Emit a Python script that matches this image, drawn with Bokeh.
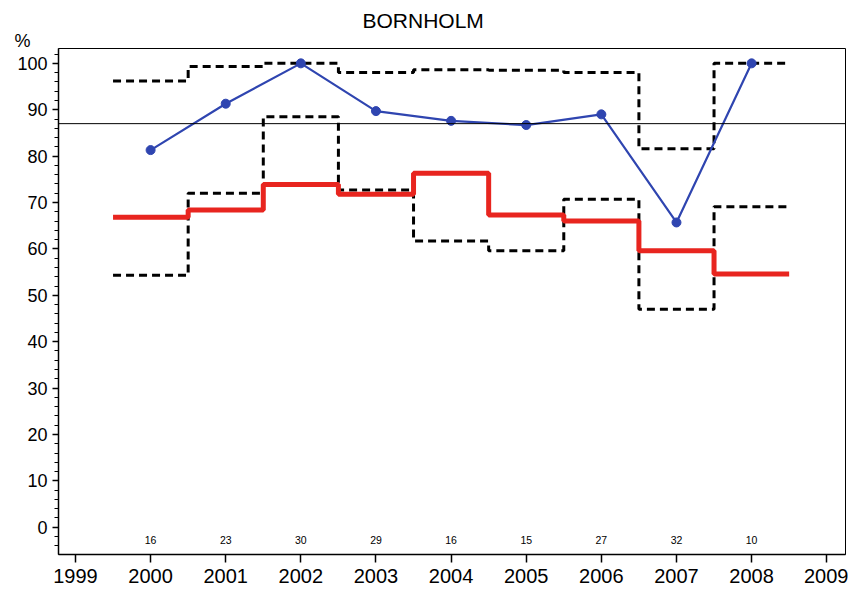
from bokeh.plotting import figure
from bokeh.models import FixedTicker, Range1d, Span, Title, ColumnDataSource
from bokeh.core.properties import value
from bokeh.embed import file_html
from bokeh.resources import INLINE

# ---- data ----
years = [2000, 2001, 2002, 2003, 2004, 2005, 2006, 2007, 2008]
blue_pct = [81.3, 91.3, 100.0, 89.7, 87.6, 86.7, 89.0, 65.7, 100.0]
red_pct = [66.8, 68.4, 73.9, 71.8, 76.3, 67.3, 66.0, 59.6, 54.6]
upper_pct = [96.2, 99.3, 100.0, 98.0, 98.6, 98.5, 98.0, 81.6, 100.0]
lower_pct = [54.3, 72.0, 88.5, 72.7, 61.7, 59.6, 70.7, 47.0, 69.1]
counts = ["16", "23", "30", "29", "16", "15", "27", "32", "10"]
ref_level = 87
x_ticks = list(range(1999, 2010))
y_ticks = list(range(0, 101, 10))
title_text = "BORNHOLM"
unit_text = "%"

FONT = "Liberation Sans"
X0, X1 = 1998.774, 2009.25
Y0, Y1 = -5.88, 103.2

p = figure(width=848, height=590, output_backend="svg", toolbar_location=None,
           title=None,
           x_range=Range1d(X0, X1), y_range=Range1d(Y0, Y1),
           min_border_left=58, min_border_right=3, min_border_top=48, min_border_bottom=36)

p.xgrid.visible = False
p.ygrid.visible = False
p.outline_line_color = "black"
p.outline_line_width = 1
p.background_fill_color = "white"
p.border_fill_color = "white"

# axes
for ax in (p.xaxis[0], p.yaxis[0]):
    ax.axis_line_color = "black"
    ax.axis_line_width = 1.5
    ax.major_tick_line_color = "black"
    ax.major_tick_line_width = 1.5
    ax.major_tick_in = 0
    ax.major_label_text_font = FONT
    ax.major_label_text_color = "black"
    ax.axis_label_standoff = 0

p.xaxis.ticker = FixedTicker(ticks=x_ticks)
p.xaxis.major_tick_out = 8
p.xaxis.minor_tick_line_color = None
p.xaxis.major_label_standoff = 6
p.xaxis.major_label_text_font_size = "20px"

p.yaxis.ticker = FixedTicker(ticks=y_ticks, minor_ticks=list(range(-4, 103, 2)))
p.yaxis.major_tick_out = 6
p.yaxis.minor_tick_out = 4
p.yaxis.minor_tick_in = 0
p.yaxis.minor_tick_line_color = "black"
p.yaxis.minor_tick_line_width = 1
p.yaxis.major_label_standoff = 5
p.yaxis.major_label_text_font_size = "18px"

# titles: first added sits nearest the frame
p.add_layout(Title(text=unit_text, align="left", offset=-44, standoff=-5,
                   text_font=FONT, text_font_size="18px", text_font_style="normal",
                   text_color="black"), "above")
p.add_layout(Title(text=title_text, align="left", offset=304, standoff=0,
                   text_font=FONT, text_font_size="21px", text_font_style="normal",
                   text_color="black"), "above")


def step_arrays(vals):
    xs = [y - 0.5 for y in years] + [years[-1] + 0.5]
    ys = list(vals) + [vals[-1]]
    return xs, ys

# reference line
p.add_layout(Span(location=ref_level, dimension="width", line_color="black", line_width=1))

# dashed bounds
for vals in (upper_pct, lower_pct):
    xs, ys = step_arrays(vals)
    p.step(xs, ys, mode="after", line_color="black", line_width=3, line_dash="8 5")

# red step
xs, ys = step_arrays(red_pct)
p.step(xs, ys, mode="after", line_color="#e8251f", line_width=5)

# blue line
p.line(years, blue_pct, line_color="#2f45b0", line_width=2.2)
p.scatter(years, blue_pct, size=9, fill_color="#2f45b0", line_color="#2f45b0")

# counts
src = ColumnDataSource(dict(x=years, y=[-2.8] * len(years), t=counts))
p.text(x="x", y="y", text="t", source=src, text_align="center", text_baseline="middle",
       text_font=value(FONT), text_font_size="10.5px", text_color="black")

open("out.html", "w").write(file_html(p, INLINE))
